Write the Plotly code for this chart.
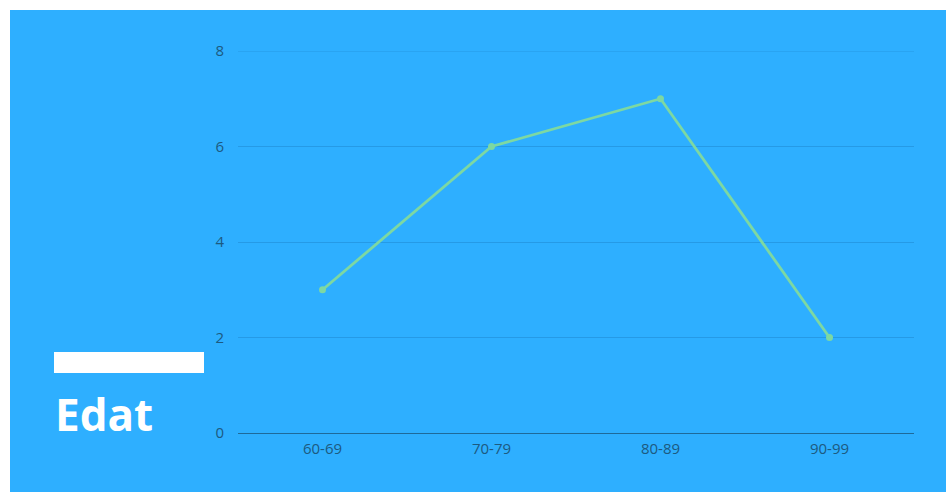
import plotly.graph_objects as go

# Age groups and counts
age_groups = ["60-69", "70-79", "80-89", "90-99"]
counts = [3, 6, 7, 2]
y_ticks = [0, 2, 4, 6, 8]
title_text = "Edat"

W, H = 946, 492
ML, MR, MT, MB = 238, 32, 51, 59
PW, PH = W - ML - MR, H - MT - MB

BLUE = "#2EAFFF"
GREEN = "#7DD8A2"
TICK = "#1D5A80"
GRID = "rgba(10,80,140,0.22)"


def px_x(px):
    return (px - ML) / PW


def px_y(py):
    return (H - MB - py) / PH


fig = go.Figure(
    go.Scatter(
        x=age_groups,
        y=counts,
        mode="lines+markers",
        line=dict(color=GREEN, width=2.8),
        marker=dict(color=GREEN, size=7),
        hoverinfo="x+y",
    )
)

shapes = [
    # white frame strips on the top and left edges
    dict(type="rect", xref="paper", yref="paper", layer="below",
         x0=px_x(0), x1=px_x(10), y0=px_y(H), y1=px_y(0),
         fillcolor="white", line=dict(width=0)),
    dict(type="rect", xref="paper", yref="paper", layer="below",
         x0=px_x(0), x1=px_x(W), y0=px_y(10), y1=px_y(0),
         fillcolor="white", line=dict(width=0)),
    # white bar above the title
    dict(type="rect", xref="paper", yref="paper", layer="above",
         x0=px_x(54), x1=px_x(204), y0=px_y(373), y1=px_y(352),
         fillcolor="white", line=dict(width=0)),
    # gridline along the top of the value range
    dict(type="line", xref="paper", yref="y", layer="below",
         x0=0, x1=1, y0=y_ticks[-1], y1=y_ticks[-1],
         line=dict(color=GRID, width=1)),
]

fig.update_layout(
    width=W,
    height=H,
    margin=dict(l=ML, r=MR, t=MT, b=MB),
    paper_bgcolor=BLUE,
    plot_bgcolor=BLUE,
    showlegend=False,
    font=dict(family="Open Sans", size=15, color=TICK),
    shapes=shapes,
    annotations=[
        dict(text=f"<b>{title_text}</b>", xref="paper", yref="paper",
             x=px_x(53), y=px_y(414), xanchor="left", yanchor="middle",
             showarrow=False, font=dict(family="Open Sans", size=44, color="white")),
    ],
    xaxis=dict(
        type="category",
        range=[-0.5, 3.5],
        showgrid=False,
        showline=True,
        linecolor="#1E6A9A",
        linewidth=1,
        ticks="",
        ticklabelstandoff=2,
        tickfont=dict(size=15, color=TICK),
        fixedrange=True,
    ),
    yaxis=dict(
        range=[0, 8],
        tickvals=y_ticks,
        showgrid=True,
        gridcolor=GRID,
        gridwidth=1,
        zeroline=False,
        showline=False,
        ticks="",
        ticklabelstandoff=13,
        tickfont=dict(size=15, color=TICK),
        fixedrange=True,
    ),
)

fig.write_html("out.html")
